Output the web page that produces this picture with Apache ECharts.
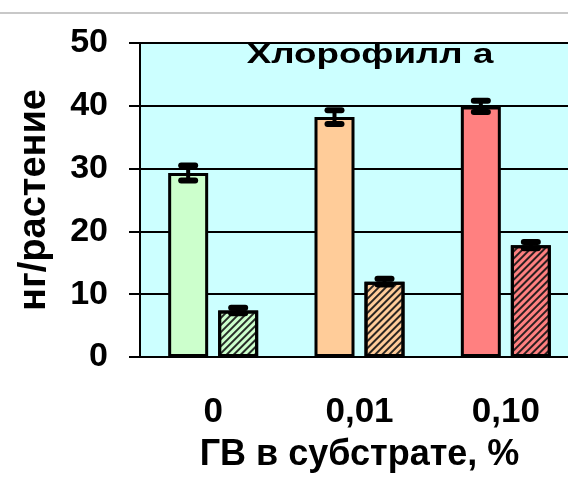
<!DOCTYPE html>
<html>
<head>
<meta charset="utf-8">
<script src="https://cdn.jsdelivr.net/npm/echarts@6/dist/echarts.min.js"></script>
<style>
  html, body { margin: 0; padding: 0; background: #ffffff; }
  #chart { width: 568px; height: 485px; }
</style>
</head>
<body>
<div id="chart"></div>
<script>
// Chlorophyll a per plant at three HV concentrations in the substrate
const categories = ['0', '0,01', '0,10'];
const solidValues = [29.3, 38.2, 39.9];
const solidErrors = [1.2, 1.1, 0.9];
const hatchedValues = [7.4, 12.0, 17.8];
const hatchedErrors = [0.45, 0.45, 0.5];
const groupColors = ['#CCFFCC', '#FFCC99', '#FF8080'];
const yTicks = [0, 10, 20, 30, 40, 50];

const chart = echarts.init(document.getElementById('chart'), null, { renderer: 'canvas' });

const BAR_W = 40;
const BAR_GAP = 10;
const HALF_STEP = (BAR_W + BAR_GAP) / 2;
const FONT = '"Liberation Sans", Arial, sans-serif';

const hatch = {
  symbol: 'rect',
  symbolSize: 1,
  color: 'rgba(20,20,20,0.9)',
  dashArrayX: [1, 0],
  dashArrayY: [1.8, 2.2],
  rotation: -Math.PI / 4
};

function errorBar(offset) {
  return function (params, api) {
    const i = api.value(0);
    const v = api.value(1);
    const e = api.value(2);
    const hi = api.coord([i, v + e]);
    const lo = api.coord([i, v - e]);
    const x = hi[0] + offset;
    const capW = 20, capH = 6;
    return {
      type: 'group',
      children: [
        { type: 'rect', shape: { x: x - 2, y: hi[1], width: 4, height: lo[1] - hi[1] }, style: { fill: '#000' } },
        { type: 'rect', shape: { x: x - capW / 2, y: hi[1] - capH / 2, width: capW, height: capH, r: capH / 2 }, style: { fill: '#000' } },
        { type: 'rect', shape: { x: x - capW / 2, y: lo[1] - capH / 2, width: capW, height: capH, r: capH / 2 }, style: { fill: '#000' } }
      ]
    };
  };
}

const option = {
  animation: false,
  backgroundColor: '#ffffff',
  grid: {
    left: 140, top: 43, width: 439, height: 314,
    outerBoundsMode: 'none',
    containLabel: false,
    show: true, backgroundColor: '#CCFFFF', borderWidth: 0
  },
  xAxis: {
    type: 'category',
    data: categories,
    boundaryGap: true,
    name: 'ГВ в субстрате, %',
    nameLocation: 'middle',
    nameGap: 80,
    nameTextStyle: { fontFamily: FONT, fontWeight: 'bold', fontSize: 36, color: '#000' },
    axisLine: { lineStyle: { color: '#000', width: 2 } },
    axisTick: { length: 12, lineStyle: { color: '#000', width: 2 } },
    axisLabel: { margin: 38, fontFamily: FONT, fontWeight: 'bold', fontSize: 35, color: '#000' },
    splitLine: { show: false }
  },
  yAxis: {
    type: 'value',
    min: yTicks[0], max: yTicks[yTicks.length - 1], interval: 10,
    name: 'нг/растение',
    nameLocation: 'middle',
    nameGap: 86,
    nameRotate: 90,
    nameTextStyle: { fontFamily: FONT, fontWeight: 'bold', fontSize: 38, color: '#000' },
    axisLine: { show: true, lineStyle: { color: '#000', width: 2 } },
    axisTick: { show: true, length: 11, lineStyle: { color: '#000', width: 2 } },
    axisLabel: { margin: 32, fontFamily: FONT, fontWeight: 'bold', fontSize: 34, color: '#000' },
    splitLine: { show: true, lineStyle: { color: '#000', width: 2 } }
  },
  graphic: [
    {
      type: 'line',
      shape: { x1: 0, y1: 13, x2: 568, y2: 13 },
      style: { stroke: '#c8c8c8', lineWidth: 2 },
      silent: true
    },
    {
      type: 'text',
      x: 370, y: 56,
      scaleX: 1.36,
      style: {
        text: 'Хлорофилл а',
        font: 'bold 27px "Liberation Sans", Arial, sans-serif',
        fill: '#000',
        align: 'center',
        verticalAlign: 'middle'
      },
      z: 10
    }
  ],
  series: [
    {
      type: 'bar',
      barWidth: BAR_W,
      barGap: (BAR_GAP / BAR_W * 100) + '%',
      data: solidValues.map((v, i) => ({
        value: v,
        itemStyle: { color: groupColors[i], borderColor: '#000', borderWidth: 3 }
      }))
    },
    {
      type: 'bar',
      barWidth: BAR_W,
      data: hatchedValues.map((v, i) => ({
        value: v,
        itemStyle: { color: groupColors[i], borderColor: '#000', borderWidth: 3, decal: hatch }
      }))
    },
    {
      type: 'custom',
      renderItem: errorBar(-HALF_STEP),
      encode: { x: 0, y: 1 },
      data: solidValues.map((v, i) => [i, v, solidErrors[i]]),
      z: 5
    },
    {
      type: 'custom',
      renderItem: errorBar(HALF_STEP),
      encode: { x: 0, y: 1 },
      data: hatchedValues.map((v, i) => [i, v, hatchedErrors[i]]),
      z: 5
    }
  ]
};

chart.setOption(option);
</script>
</body>
</html>
